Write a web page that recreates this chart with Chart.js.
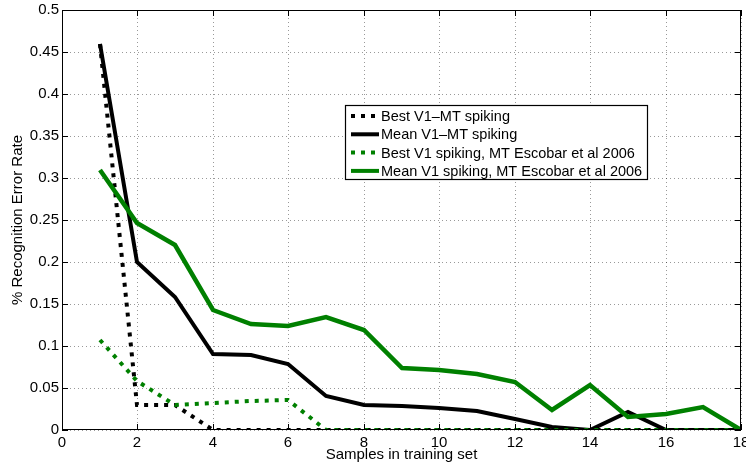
<!DOCTYPE html>
<html>
<head>
<meta charset="utf-8">
<script src="https://cdn.jsdelivr.net/npm/chart.js@4.4.1/dist/chart.umd.min.js"></script>
<style>
  body { margin: 0; background: #fff; }
  #wrap { width: 746px; height: 466px; }
</style>
</head>
<body>
<div id="wrap"><canvas id="chart" width="746" height="466"></canvas></div>
<script>
// samples in training set
const samples = [1, 2, 3, 4, 5, 6, 7, 8, 9, 10, 11, 12, 13, 14, 15, 16, 17, 18];

// error rates
const bestV1MT    = [0.46, 0.03, 0.03, 0, 0, 0, 0, 0, 0, 0, 0, 0, 0, 0, 0, 0, 0, 0];
const meanV1MT    = [0.46, 0.2, 0.158, 0.091, 0.089, 0.078, 0.04, 0.03, 0.028, 0.026, 0.023, 0.013, 0.004, 0, 0.022, 0, 0, 0];
const bestEscobar = [0.107, 0.058, 0.03, 0.032, 0.034, 0.036, 0, 0, 0, 0, 0, 0, 0, 0, 0, 0, 0, 0];
const meanEscobar = [0.31, 0.247, 0.22, 0.143, 0.126, 0.124, 0.135, 0.119, 0.074, 0.071, 0.067, 0.057, 0.024, 0.053, 0.016, 0.019, 0.027, 0];

const seriesLabels = [
    'Best V1\u2013MT spiking',
    'Mean V1\u2013MT spiking',
    'Best V1 spiking, MT Escobar et al 2006',
    'Mean V1 spiking, MT Escobar et al 2006'
];

const FONT = 'Liberation Sans, Arial, Helvetica, sans-serif';
const GREEN = '#008000';
const DOTS = [4, 6];

function pts(arr) {
    return samples.map((s, i) => ({ x: s, y: arr[i] }));
}

// box round the axes with inward ticks on all four sides
const framePlugin = {
    id: 'frame',
    afterDatasetsDraw(chart) {
        const { ctx, chartArea: a, scales } = chart;
        ctx.save();
        ctx.strokeStyle = '#000';
        ctx.lineWidth = 1;
        ctx.setLineDash([]);
        ctx.strokeRect(a.left + 0.5, a.top + 0.5, a.right - a.left - 1, a.bottom - a.top - 1);
        const len = 6;
        ctx.beginPath();
        scales.x.ticks.forEach(t => {
            const px = Math.round(scales.x.getPixelForValue(t.value)) + 0.5;
            ctx.moveTo(px, a.bottom); ctx.lineTo(px, a.bottom - len);
            ctx.moveTo(px, a.top); ctx.lineTo(px, a.top + len);
        });
        scales.y.ticks.forEach(t => {
            const py = Math.round(scales.y.getPixelForValue(t.value)) + 0.5;
            ctx.moveTo(a.left, py); ctx.lineTo(a.left + len, py);
            ctx.moveTo(a.right, py); ctx.lineTo(a.right - len, py);
        });
        ctx.stroke();
        ctx.restore();
    }
};

// legend drawn inside the plot like the matlab one
const boxLegend = {
    id: 'boxLegend',
    afterDraw(chart) {
        const ctx = chart.ctx;
        const x0 = 345, y0 = 105, w = 302, h = 74;
        ctx.save();
        ctx.fillStyle = '#fff';
        ctx.fillRect(x0, y0, w, h);
        ctx.strokeStyle = '#000';
        ctx.lineWidth = 1.2;
        ctx.strokeRect(x0 + 0.5, y0 + 0.5, w, h);
        ctx.font = '14.5px ' + FONT;
        ctx.textBaseline = 'middle';
        chart.data.datasets.forEach((ds, i) => {
            const y = y0 + 11 + i * 18.3;
            ctx.strokeStyle = ds.borderColor;
            ctx.lineWidth = 4;
            ctx.lineCap = 'butt';
            ctx.setLineDash(ds.borderDash || []);
            ctx.beginPath();
            ctx.moveTo(x0 + 6, y);
            ctx.lineTo(x0 + 34, y);
            ctx.stroke();
            ctx.setLineDash([]);
            ctx.fillStyle = '#000';
            ctx.fillText(ds.label, x0 + 36, y + 1);
        });
        ctx.restore();
    }
};

const datasets = [
    { label: seriesLabels[0], data: pts(bestV1MT), borderColor: '#000', borderWidth: 4, borderDash: DOTS, order: 4 },
    { label: seriesLabels[1], data: pts(meanV1MT), borderColor: '#000', borderWidth: 4, order: 3 },
    { label: seriesLabels[2], data: pts(bestEscobar), borderColor: GREEN, borderWidth: 4, borderDash: DOTS, order: 2 },
    { label: seriesLabels[3], data: pts(meanEscobar), borderColor: GREEN, borderWidth: 4.5, order: 1 }
];

new Chart(document.getElementById('chart'), {
    type: 'line',
    data: { datasets: datasets },
    options: {
        responsive: false,
        animation: false,
        layout: { padding: { left: 0, right: 5, top: 10, bottom: 0 } },
        elements: {
            point: { radius: 0, hoverRadius: 0 },
            line: { tension: 0, fill: false, borderCapStyle: 'butt', borderJoinStyle: 'miter' }
        },
        plugins: {
            legend: { display: false },
            tooltip: { enabled: false }
        },
        scales: {
            x: {
                type: 'linear',
                min: 0,
                max: 18,
                alignToPixels: true,
                ticks: { stepSize: 2, color: '#000', padding: 4, font: { family: FONT, size: 15 }, maxRotation: 0 },
                grid: { color: 'rgba(0,0,0,0.4)', lineWidth: 1, drawTicks: false },
                border: { display: false, dash: [1, 3] },
                title: { display: true, text: 'Samples in training set', color: '#000', font: { family: FONT, size: 15 }, padding: { top: 0, bottom: 2 } },
                afterFit(scale) {
                    scale.height = 36;
                    scale.paddingLeft = 0;
                    scale.paddingRight = 0;
                }
            },
            y: {
                min: 0,
                max: 0.5,
                alignToPixels: true,
                ticks: {
                    stepSize: 0.05,
                    color: '#000',
                    padding: 3,
                    font: { family: FONT, size: 15 },
                    callback: v => String(Number(v.toFixed(2)))
                },
                grid: { color: 'rgba(0,0,0,0.4)', lineWidth: 1, drawTicks: false },
                border: { display: false, dash: [1, 3] },
                title: { display: true, text: '% Recognition Error Rate', color: '#000', font: { family: FONT, size: 15 }, padding: { top: 9, bottom: 0 } },
                afterFit(scale) {
                    scale.width = 62;
                    scale.paddingTop = 0;
                    scale.paddingBottom = 0;
                }
            }
        }
    },
    plugins: [framePlugin, boxLegend]
});
</script>
</body>
</html>
